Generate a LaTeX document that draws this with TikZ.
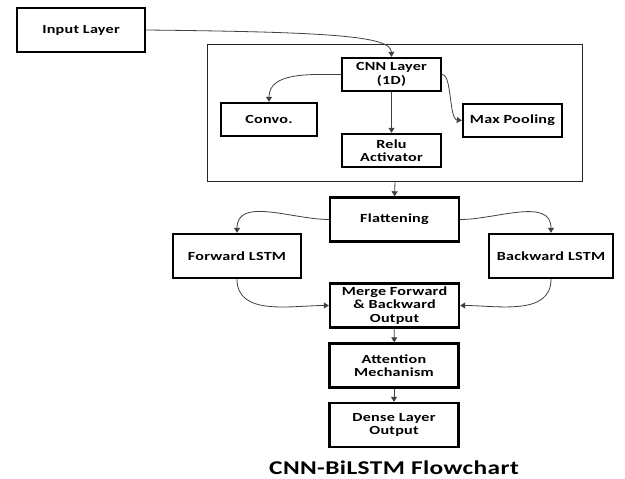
\documentclass[tikz,border=0pt]{standalone}
\usepackage{fontspec}
\setmainfont{Carlito}[FakeStretch=1.3,LetterSpace=2]
\usetikzlibrary{arrows.meta,positioning}

\begin{document}
\begin{tikzpicture}[x=1pt,y=-1pt,
    layer/.style={draw, line width=2.4pt, align=center, font=\bfseries\fontsize{12.4}{13.5}\selectfont,
    inner sep=2pt, minimum width=129pt, minimum height=44pt},
    small/.style={layer, minimum width=99pt, minimum height=33pt},
    link/.style={draw=black!75, line width=0.8pt, -{Triangle[width=6pt,length=5pt]}}
]
  \useasboundingbox (0,0) rectangle (625,479);

  \node[layer, minimum width=128pt] (input) at (81,30) {Input Layer};
  \node[draw=black!85, line width=1.5pt, minimum width=375pt, minimum height=137pt] (frame) at (395,113) {};
  \node[small] (cnn) at (391.5,74.5) {CNN Layer\\(1D)};
  \node[small, minimum width=96pt] (convo) at (269,119.5) {Convo.};
  \node[small] (maxpool) at (512.5,120.5) {Max Pooling};
  \node[small] (relu) at (391.5,150.5) {Relu\\Activator};

  \node[layer] (flat) at (394.5,219.5) {Flattening};
  \node[layer, minimum width=128pt] (fwd) at (237,256) {Forward LSTM};
  \node[layer, minimum width=124pt] (bwd) at (551,256) {Backward LSTM};
  \node[layer] (merge) at (394.5,305.5) {Merge Forward\\\& Backward\\Output};
  \node[layer] (attn) at (394,365.5) {Attention\\Mechanism};
  \node[layer] (dense) at (394,425) {Dense Layer\\Output};
  \node[inner sep=0pt, font=\bfseries\fontsize{19.5}{21}\selectfont] (title) at (394,468) {CNN-BiLSTM Flowchart};

  \draw[link] (input.east) .. controls (330,32) and (391,36) .. (cnn.north);
  \draw[link] (cnn.west) to [out=180, in=90] (convo.north);
  \draw[link] (cnn.east) .. controls (452,75) and (449,119) .. (maxpool.west);
  \draw[link] (cnn) -- (relu);
  \draw[link] (frame.south) -- (flat.north);
  \draw[link] (flat.west) to [out=180, in=90] (fwd.north);
  \draw[link] (flat.east) to [out=0, in=90] (bwd.north);
  \draw[link] (fwd.south) to [out=-90, in=180] (merge.west);
  \draw[link] (bwd.south) to [out=-90, in=0] (merge.east);
  \draw[link] (merge) -- (attn);
  \draw[link] (attn) -- (dense);
\end{tikzpicture}
\end{document}
